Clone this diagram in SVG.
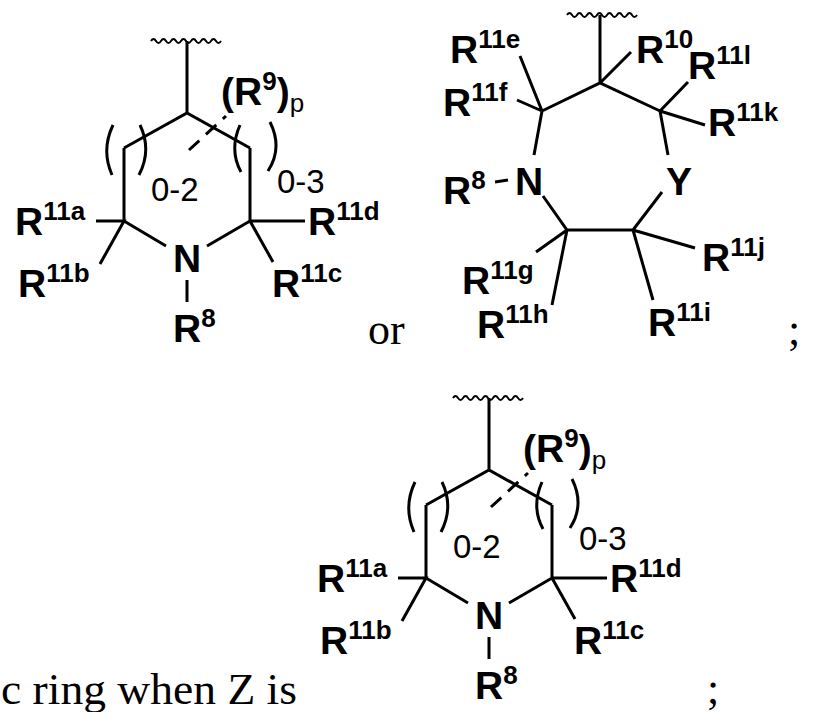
<svg xmlns="http://www.w3.org/2000/svg" width="816" height="712" viewBox="0 0 816 712">
<defs>
<style>
.b{stroke:#000;stroke-width:3;fill:none;stroke-linecap:butt}
.w{stroke:#000;stroke-width:2;fill:none}
.d{stroke:#000;stroke-width:3;stroke-dasharray:14,9;fill:none}
.t{font-family:"Liberation Sans",Arial,sans-serif;font-weight:bold;font-size:39px;fill:#000}
.s{font-size:26px}
.n{font-family:"Liberation Sans",Arial,sans-serif;font-size:33px;fill:#000}
.r{font-family:"Liberation Serif","Times New Roman",serif;font-size:44px;fill:#000}
</style>
<path id="wavy" d="M0,0 q2.5,-4 5,0 t5,0 t5,0 t5,0 t5,0 t5,0 t5,0 t5,0 t5,0 t5,0 t5,0 t5,0 t5,0 t5,0" class="w"/>
<g id="pip">
<use href="#wavy" x="151" y="41"/>
<path class="b" d="M187,41 V113 M124,148 L187,113 L250,148 M124,148 V221 M250,148 V221 M124,221 L166,246 M207,246 L250,221 M187,280 V302 M96,221 H124 L100,264 M250,221 H305 M250,221 L273,262"/>
<path class="b" d="M113,125 Q101,150 112,175 M140,125 Q152,150 139,175 M240,125 Q229,150 241,172 M270,122 Q283,148 268,171"/>
<path class="d" d="M189,150 L226,116"/>
<text class="t" x="187" y="272" text-anchor="middle">N</text>
<text class="t" x="173" y="342">R<tspan class="s" dy="-15">8</tspan></text>
<text class="t" x="15" y="235">R<tspan class="s" dy="-15">11a</tspan></text>
<text class="t" x="18" y="297">R<tspan class="s" dy="-15">11b</tspan></text>
<text class="t" x="308" y="235">R<tspan class="s" dy="-15">11d</tspan></text>
<text class="t" x="272" y="297">R<tspan class="s" dy="-15">11c</tspan></text>
<text class="t" x="221" y="105">(R<tspan class="s" dy="-15">9</tspan><tspan dy="15">)</tspan><tspan class="s" style="font-weight:normal" dy="7">p</tspan></text>
<text class="n" x="151" y="201">0-2</text>
<text class="n" x="277" y="193">0-3</text>
</g>
</defs>
<g id="piperidine-top"><use href="#pip"/></g>
<g id="azepane">
<use href="#wavy" x="567" y="15"/>
<g class="b">
<path d="M600,15 V83 M542,111 L600,83 L660,111 M542,111 L534,155 M660,111 L668,155 M543,196 L567,230 H633 L662,192 M600,83 L631,52 M542,111 L520,56 M542,111 L517,100 M660,111 L688,82 M660,111 L705,125 M495,182 L508,180 M567,230 L536,252 M567,230 L552,305 M633,230 L695,248 M633,230 L653,300"/>
</g>
<text class="t" x="529" y="195" text-anchor="middle">N</text>
<text class="t" x="679" y="195" text-anchor="middle">Y</text>
<text class="t" x="636" y="63">R<tspan class="s" dy="-15">10</tspan></text>
<text class="t" x="450" y="63">R<tspan class="s" dy="-15">11e</tspan></text>
<text class="t" x="443" y="116">R<tspan class="s" dy="-15">11f</tspan></text>
<text class="t" x="688" y="79">R<tspan class="s" dy="-15">11l</tspan></text>
<text class="t" x="708" y="136">R<tspan class="s" dy="-15">11k</tspan></text>
<text class="t" x="443" y="204">R<tspan class="s" dy="-15">8</tspan></text>
<text class="t" x="462" y="294">R<tspan class="s" dy="-15">11g</tspan></text>
<text class="t" x="477" y="338">R<tspan class="s" dy="-15">11h</tspan></text>
<text class="t" x="702" y="271">R<tspan class="s" dy="-15">11j</tspan></text>
<text class="t" x="648" y="336">R<tspan class="s" dy="-15">11i</tspan></text>
</g>
<g id="piperidine-bottom"><use href="#pip" x="302" y="357"/></g>
<g id="text">
<text class="r" x="368" y="344">or</text>
<text class="r" x="788" y="344">;</text>
<text class="r" x="1" y="704" textLength="296" lengthAdjust="spacingAndGlyphs">c ring when Z is</text>
<text class="r" x="707" y="703">;</text>
</g>
</svg>
